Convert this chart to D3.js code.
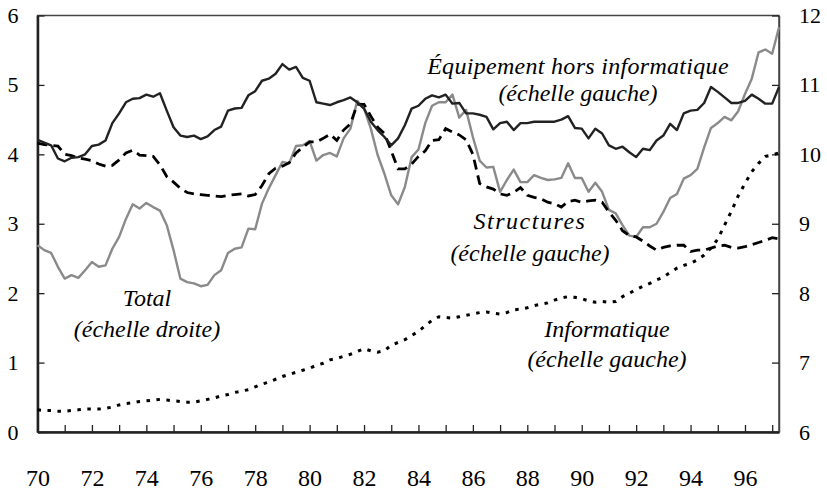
<!DOCTYPE html>
<html>
<head>
<meta charset="utf-8">
<script src="https://cdn.jsdelivr.net/npm/d3@7"></script>
<style>
  html, body { margin: 0; padding: 0; background: #fff; }
  svg { display: block; font-family: "Liberation Serif", "Times New Roman", serif; }
</style>
</head>
<body>
<svg id="chart" width="827" height="490"></svg>
<script>
// ---- Data (quarterly, 1970Q1 .. 1997Q2) ----
const startYear = 1970;
const endYear = 1997.25;
const quarters = d3.range(0, 110).map(i => startYear + i / 4);

// Équipement hors informatique (left scale, % )
const equipement = [
  4.21, 4.17, 4.13, 3.94,
  3.90, 3.95, 3.96, 4.00,
  4.12, 4.14, 4.20, 4.45,
  4.59, 4.75, 4.80, 4.81,
  4.86, 4.83, 4.88, 4.63,
  4.39, 4.27, 4.25, 4.27,
  4.22, 4.26, 4.35, 4.40,
  4.63, 4.66, 4.67, 4.85,
  4.91, 5.06, 5.09, 5.16,
  5.30, 5.22, 5.26, 5.10,
  5.06, 4.75, 4.73, 4.71,
  4.75, 4.78, 4.82, 4.75,
  4.66, 4.47, 4.35, 4.25,
  4.13, 4.23, 4.42, 4.66,
  4.70, 4.80, 4.85, 4.82,
  4.86, 4.73, 4.74, 4.59,
  4.59, 4.57, 4.54, 4.36,
  4.45, 4.47, 4.35, 4.45,
  4.45, 4.47, 4.47, 4.47,
  4.47, 4.50, 4.55, 4.38,
  4.37, 4.23, 4.37, 4.30,
  4.13, 4.08, 4.11, 4.03,
  3.96, 4.08, 4.06, 4.20,
  4.27, 4.44, 4.35, 4.59,
  4.63, 4.64, 4.74, 4.97,
  4.90, 4.82, 4.74, 4.74,
  4.77, 4.86, 4.80, 4.73,
  4.73, 4.97
];

// Structures (left scale)
const structures = [
  4.16, 4.14, 4.13, 4.12,
  4.00, 3.98, 3.95, 3.93,
  3.91, 3.86, 3.83, 3.84,
  3.92, 4.02, 4.06, 3.99,
  3.98, 3.97, 3.85, 3.68,
  3.60, 3.51, 3.45, 3.43,
  3.42, 3.41, 3.40, 3.39,
  3.41, 3.42, 3.43, 3.40,
  3.42, 3.55, 3.72, 3.80,
  3.83, 3.88, 4.02, 4.10,
  4.18, 4.18, 4.23, 4.29,
  4.20, 4.35, 4.44, 4.72,
  4.72, 4.55, 4.39, 4.30,
  4.05, 3.79, 3.79, 3.86,
  3.97, 4.05, 4.20, 4.21,
  4.37, 4.32, 4.28, 4.21,
  4.00, 3.58, 3.53, 3.50,
  3.43, 3.41, 3.45, 3.52,
  3.41, 3.38, 3.36, 3.31,
  3.29, 3.24, 3.32, 3.34,
  3.31, 3.33, 3.34, 3.31,
  3.17, 3.05, 2.90, 2.83,
  2.81, 2.75, 2.68, 2.62,
  2.66, 2.68, 2.69, 2.69,
  2.60, 2.62, 2.62, 2.65,
  2.68, 2.69, 2.66, 2.65,
  2.67, 2.70, 2.73, 2.76,
  2.80, 2.78
];

// Total (right scale)
const total = [
  8.69, 8.62, 8.58, 8.38,
  8.21, 8.26, 8.22, 8.33,
  8.45, 8.38, 8.40, 8.64,
  8.81, 9.07, 9.28, 9.22,
  9.30, 9.24, 9.19, 8.98,
  8.62, 8.21, 8.16, 8.14,
  8.10, 8.12, 8.26, 8.33,
  8.58, 8.64, 8.66, 8.93,
  8.92, 9.29, 9.51, 9.70,
  9.89, 9.87, 10.12, 10.13,
  10.19, 9.91, 9.99, 10.02,
  9.97, 10.23, 10.37, 10.77,
  10.66, 10.37, 9.99, 9.72,
  9.41, 9.28, 9.53, 9.96,
  10.07, 10.45, 10.70, 10.75,
  10.75, 10.86, 10.53, 10.64,
  10.25, 9.91, 9.81, 9.82,
  9.46, 9.63, 9.78, 9.60,
  9.60, 9.70, 9.66, 9.63,
  9.64, 9.66, 9.87, 9.66,
  9.66, 9.46, 9.59, 9.46,
  9.20, 9.15, 8.98, 8.83,
  8.81, 8.95, 8.95, 9.00,
  9.17, 9.37, 9.43, 9.65,
  9.70, 9.79, 10.10, 10.38,
  10.45, 10.54, 10.49, 10.62,
  10.87, 11.09, 11.47, 11.51,
  11.45, 11.83
];

// Informatique (left scale)
const informatique = [
  0.32, 0.31, 0.31, 0.30,
  0.30, 0.31, 0.32, 0.33,
  0.33, 0.33, 0.34, 0.36,
  0.39, 0.41, 0.42, 0.44,
  0.45, 0.46, 0.47, 0.46,
  0.45, 0.44, 0.43, 0.43,
  0.45, 0.47, 0.49, 0.52,
  0.54, 0.57, 0.59, 0.61,
  0.65, 0.69, 0.72, 0.76,
  0.80, 0.83, 0.86, 0.89,
  0.92, 0.96, 0.99, 1.04,
  1.06, 1.09, 1.12, 1.16,
  1.20, 1.17, 1.15, 1.17,
  1.25, 1.29, 1.33, 1.39,
  1.45, 1.53, 1.61, 1.66,
  1.65, 1.64, 1.66, 1.68,
  1.70, 1.72, 1.73, 1.71,
  1.70, 1.72, 1.76, 1.77,
  1.79, 1.82, 1.84, 1.86,
  1.90, 1.93, 1.95, 1.94,
  1.92, 1.89, 1.87, 1.88,
  1.87, 1.88, 1.95, 2.00,
  2.05, 2.10, 2.14, 2.19,
  2.23, 2.30, 2.36, 2.40,
  2.43, 2.48, 2.55, 2.65,
  2.78, 2.98, 3.18, 3.40,
  3.58, 3.75, 3.87, 3.97,
  3.99, 4.02
];

const yearTicks = d3.range(1970, 1998);
const leftTicks = [0, 1, 2, 3, 4, 5, 6];
const rightTicks = [6, 7, 8, 9, 10, 11, 12];

const labels = [
  { lines: ["Équipement hors informatique", "(échelle gauche)"] },
  { lines: ["Structures", "(échelle gauche)"] },
  { lines: ["Total", "(échelle droite)"] },
  { lines: ["Informatique", "(échelle gauche)"] }
];

// ---- Layout ----
const svg = d3.select("#chart");
const L = 37.5, R = 779, T = 15.5, B = 432;

const x = d3.scaleLinear().domain([startYear, endYear]).range([L, R]);
const yL = d3.scaleLinear().domain([0, 6]).range([B, T]);
const yR = d3.scaleLinear().domain([6, 12]).range([B, T]);

// frame (top & right)
svg.append("rect")
  .attr("x", L).attr("y", T).attr("width", R - L).attr("height", B - T)
  .attr("fill", "none").attr("stroke", "#444").attr("stroke-width", 1.5);

// bottom axis
const gx = svg.append("g").attr("transform", `translate(0,${B})`)
  .call(d3.axisBottom(x).tickValues(yearTicks).tickSize(-7).tickSizeOuter(0)
    .tickPadding(37)
    .tickFormat(d => d % 2 === 0 ? String(d).slice(2) : ""));
gx.select(".domain").attr("stroke", "#222").attr("stroke-width", 2.5);
gx.selectAll(".tick line").attr("stroke", "#222").attr("stroke-width", 1.3);
gx.selectAll(".tick text").attr("font-size", 24).attr("fill", "#000")
  .attr("font-family", "Liberation Serif, Times New Roman, serif");

// left axis
const gl = svg.append("g").attr("transform", `translate(${L},0)`)
  .call(d3.axisLeft(yL).tickValues(leftTicks).tickSize(-7).tickSizeOuter(0)
    .tickPadding(19).tickFormat(d3.format("d")));
gl.select(".domain").attr("stroke", "#222").attr("stroke-width", 2.5);
gl.selectAll(".tick line").attr("stroke", "#222").attr("stroke-width", 1.3);
gl.selectAll(".tick text").attr("font-size", 22).attr("fill", "#000")
  .attr("font-family", "Liberation Serif, Times New Roman, serif");

// right axis
const gr = svg.append("g").attr("transform", `translate(${R},0)`)
  .call(d3.axisRight(yR).tickValues(rightTicks).tickSize(-7).tickSizeOuter(0)
    .tickPadding(20).tickFormat(d3.format("d")));
gr.select(".domain").attr("stroke", "#444").attr("stroke-width", 1.5);
gr.selectAll(".tick line").attr("stroke", "#222").attr("stroke-width", 1.3);
gr.selectAll(".tick text").attr("font-size", 22).attr("fill", "#000")
  .attr("font-family", "Liberation Serif, Times New Roman, serif");

// ---- Lines ----
const lineL = d3.line().x((d, i) => x(quarters[i])).y(d => yL(d));
const lineR = d3.line().x((d, i) => x(quarters[i])).y(d => yR(d));

svg.append("path").datum(total)
  .attr("d", lineR).attr("fill", "none")
  .attr("stroke", "#8a8a8a").attr("stroke-width", 2.4).attr("stroke-linejoin", "round");

svg.append("path").datum(structures)
  .attr("d", lineL).attr("fill", "none")
  .attr("stroke", "#000").attr("stroke-width", 2.8)
  .attr("stroke-dasharray", "10,6");

svg.append("path").datum(informatique)
  .attr("d", lineL).attr("fill", "none")
  .attr("stroke", "#000").attr("stroke-width", 3)
  .attr("stroke-dasharray", "3.5,6.5");

svg.append("path").datum(equipement)
  .attr("d", lineL).attr("fill", "none")
  .attr("stroke", "#222").attr("stroke-width", 2.4).attr("stroke-linejoin", "round");

// ---- Annotations ----
const annPos = [
  { cx: 578, y1: 74, y2: 101, ls1: 0.3 },
  { cx: 530, y1: 229, y2: 261, ls1: 1.5 },
  { cx: 147, y1: 306, y2: 337, ls1: 0 },
  { cx: 607, y1: 337, y2: 367, ls1: 0 }
];
labels.forEach((lab, i) => {
  const p = annPos[i];
  const t = svg.append("text")
    .attr("font-style", "italic").attr("font-size", 24)
    .attr("text-anchor", "middle").attr("fill", "#000");
  t.append("tspan").attr("x", p.cx).attr("y", p.y1)
    .attr("letter-spacing", p.ls1).text(lab.lines[0]);
  t.append("tspan").attr("x", p.cx).attr("y", p.y2).text(lab.lines[1]);
});
</script>
</body>
</html>
